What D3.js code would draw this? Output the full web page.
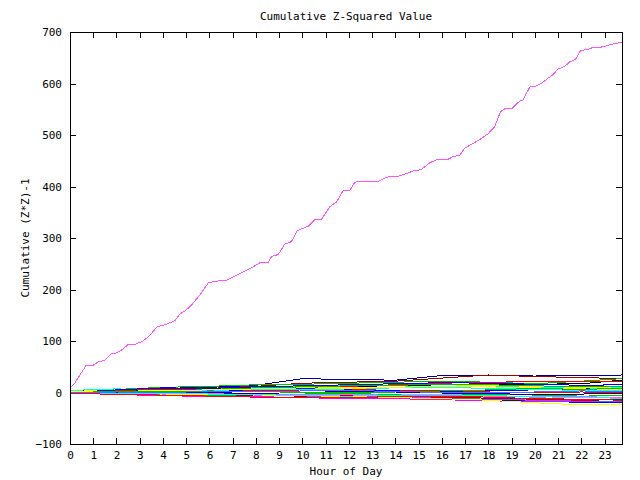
<!DOCTYPE html>
<html>
<head>
<meta charset="utf-8">
<script src="https://cdn.jsdelivr.net/npm/d3@7"></script>
<style>
    body { margin: 0; background: #fff; }
    text { font-family: "DejaVu Sans Mono", monospace; font-size: 11px; fill: #000; }
</style>
</head>
<body>
<div id="chart"></div>
<script>
const title = "Cumulative Z-Squared Value";
const xLabel = "Hour of Day";
const yLabel = "Cumulative (Z*Z)-1";
const xTicks = d3.range(0, 24);
const yTicks = [-100, 0, 100, 200, 300, 400, 500, 600, 700];

// the one station that runs away
const peakHours = [0, 0.2, 0.7, 1.0, 1.2, 1.5, 1.78, 2.0, 2.2, 2.5, 2.78, 3.14, 3.42, 3.75, 4.0, 4.5, 4.72, 5.0, 5.29, 5.65,
    5.95, 6.23, 6.74, 7.45, 7.88, 8.17, 8.53, 8.67, 8.96, 9.24, 9.53, 9.77, 10.25, 10.53, 10.82, 11.18, 11.47, 11.6, 11.75, 12.04,
    12.25, 12.4, 13.25, 13.54, 13.76, 14.04, 14.4, 14.76, 15.12, 15.48, 15.77, 16.27, 16.48, 16.77, 16.98, 17.2, 17.55, 17.98, 18.27, 18.52,
    18.74, 19.03, 19.35, 19.49, 19.78, 20.06, 20.28, 20.56, 20.78, 20.99, 21.28, 21.5, 21.75, 21.97, 22.28, 22.5, 22.93, 23.2, 23.5, 23.75];
const peakValues = [9, 18, 53, 53, 59, 63, 75, 77, 82, 93, 93, 100, 110, 128, 130, 139, 152, 160, 173, 193,
    213, 216, 218, 234, 244, 252, 253, 264, 268, 288, 293, 314, 323, 335, 336, 361, 370, 380, 392, 392,
    408, 410, 410, 416, 420, 419, 424, 430, 433, 446, 452, 453, 458, 461, 474, 480, 489, 502, 516, 545,
    552, 552, 566, 568, 593, 595, 600, 610, 617, 628, 633, 642, 647, 664, 666, 670, 671, 675, 678, 680];
const peakColor = "#ff55ff";

// everything else hugging zero
const clusterHours = [0, 2, 4, 6, 8, 10, 12, 14, 16, 18, 20, 22, 23.75];
const clusterColors = ["#0000a0", "#a00000", "#00c000", "#000000", "#ffff00", "#00ffff", "#ff0000", "#0000ff",
    "#ff00ff", "#6060ff", "#a00000", "#ffff00", "#00c000", "#0000ff", "#ff0000", "#00ffff",
    "#00c000", "#ff55ff", "#0000ff", "#0000a0", "#ff0000", "#ffff00", "#00c000", "#00ffff", "#6060ff"];
const clusterValues = [
    [2, 4, 8, 10, 14, 27, 25, 24, 33, 33, 32, 33, 34],
    [1, 2, 6, 8, 12, 18, 20, 22, 28, 34, 31, 29, 27],
    [0, 6, 10, 12, 15, 16, 18, 20, 22, 20, 17, 22, 27],
    [3, 3, 5, 6, 7, 10, 12, 13, 15, 16, 16, 17, 24],
    [2, 5, 3, 6, 4, 8, 10, 9, 12, 14, 12, 10, 11],
    [4, 7, 5, 8, 10, 12, 14, 13, 11, 12, 10, 8, 9],
    [0, 1, 2, 4, 3, 5, 6, 4, 3, 1, 0, 1, 0],
    [1, 2, 0, -2, -3, -4, -5, -8, -10, -14, -17, -19, -20],
    [-1, -4, -6, -8, -8, -10, -12, -12, -14, -16, -18, -18, -17],
    [0, -2, -4, -5, -3, -7, -8, -9, -11, -13, -15, -16, -18],
    [-2, -3, -2, -4, -6, -7, -5, -8, -9, -11, -13, -15, -14],
    [0, -2, -3, -3, -5, -6, -8, -10, -12, -15, -20, -24, -24],
    [-1, -3, -5, -6, -4, -3, -2, -4, -6, -3, -5, -7, -6],
    [2, 3, 4, 2, 6, 8, 5, 3, 2, 4, 5, 7, 6],
    [1, 4, 6, 5, 8, 10, 12, 15, 18, 20, 21, 22, 22],
    [3, 1, 3, 4, 6, 5, 7, 9, 10, 8, 6, 4, 3],
    [0, 1, 2, 6, 9, 11, 13, 14, 16, 15, 13, 11, 12],
    [-2, -1, -3, -2, -5, -4, -3, -6, -5, -7, -9, -8, -10],
    [0, 5, 9, 8, 11, 13, 15, 17, 19, 18, 16, 14, 15],
    [1, -1, 1, 0, -2, 0, 2, 1, -1, -2, -4, -3, -2],
    [-1, -4, -5, -7, -9, -9, -10, -8, -7, -9, -12, -13, -15],
    [2, 2, 4, 5, 7, 9, 8, 10, 12, 11, 9, 7, 5],
    [0, 2, 1, 3, 2, 0, -1, 1, 3, 5, 8, 6, 8],
    [1, -2, -1, -3, -4, -6, -7, -5, -4, -6, -8, -10, -11],
    [-1, 1, 0, 2, 1, 3, 4, 2, 0, -1, 1, 3, 2]
];

const width = 640, height = 480;
const margin = { top: 32, right: 18, bottom: 36, left: 70 };
const tickLen = 6;

let svg = d3.select("#chart").append("svg")
    .attr("width", width)
    .attr("height", height);

let x = d3.scaleLinear().domain([0, 23.75]).range([margin.left, width - margin.right]);
let y = d3.scaleLinear().domain([-100, 700]).range([height - margin.bottom, margin.top]);

let line = d3.line()
    .x(d => x(d[0]))
    .y(d => y(d[1]));

// axes: inward ticks on all four sides, gnuplot style
let axisStyle = g => {
    g.select(".domain").remove();
    g.selectAll(".tick line").attr("stroke", "#000").attr("shape-rendering", "crispEdges");
    g.selectAll(".tick text").attr("fill", "#000").style("font-size", "11px");
};

svg.append("g")
    .attr("transform", `translate(0, ${y.range()[0]})`)
    .call(d3.axisBottom(x).tickValues(xTicks).tickFormat(d3.format("d")).tickSizeInner(-tickLen).tickPadding(7))
    .call(axisStyle);
svg.append("g")
    .attr("transform", `translate(0, ${y.range()[1]})`)
    .call(d3.axisTop(x).tickValues(xTicks).tickFormat("").tickSizeInner(-tickLen))
    .call(axisStyle);
svg.append("g")
    .attr("transform", `translate(${x.range()[0]}, 0)`)
    .call(d3.axisLeft(y).tickValues(yTicks).tickFormat(d3.format("d")).tickSizeInner(-tickLen).tickPadding(8))
    .call(axisStyle);
svg.append("g")
    .attr("transform", `translate(${x.range()[1]}, 0)`)
    .call(d3.axisRight(y).tickValues(yTicks).tickFormat("").tickSizeInner(-tickLen))
    .call(axisStyle);

let lines = svg.append("g")
    .attr("fill", "none")
    .attr("stroke-width", 1)
    .attr("shape-rendering", "crispEdges");

clusterValues.forEach((values, i) => {
    lines.append("path")
        .attr("d", line(values.map((v, j) => [clusterHours[j], v])))
        .attr("stroke", clusterColors[i]);
});

lines.append("path")
    .attr("d", line(peakValues.map((v, j) => [peakHours[j], v])))
    .attr("stroke", peakColor);

svg.append("rect")
    .attr("x", x.range()[0])
    .attr("y", y.range()[1])
    .attr("width", x.range()[1] - x.range()[0])
    .attr("height", y.range()[0] - y.range()[1])
    .attr("fill", "none")
    .attr("stroke", "#000")
    .attr("shape-rendering", "crispEdges");

let midX = (x.range()[0] + x.range()[1]) / 2;

svg.append("text")
    .attr("x", midX)
    .attr("y", 16)
    .attr("dy", "0.35em")
    .attr("text-anchor", "middle")
    .text(title);

svg.append("text")
    .attr("x", midX)
    .attr("y", 471)
    .attr("dy", "0.35em")
    .attr("text-anchor", "middle")
    .text(xLabel);

svg.append("text")
    .attr("transform", `translate(25, ${(y.range()[0] + y.range()[1]) / 2}) rotate(-90)`)
    .attr("dy", "0.35em")
    .attr("text-anchor", "middle")
    .text(yLabel);
</script>
</body>
</html>
